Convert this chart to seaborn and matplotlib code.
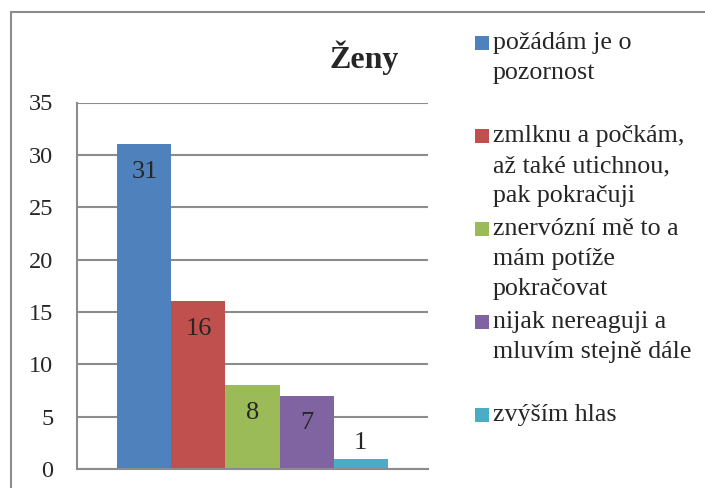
import matplotlib
matplotlib.use('Agg')
import matplotlib.pyplot as plt
from matplotlib.patches import Rectangle
from matplotlib.lines import Line2D
import seaborn as sns
import pandas as pd

# data
titulek = 'Ženy'
odpovedi = ['požádám je o\npozornost',
            'zmlknu a počkám,\naž také utichnou,\npak pokračuji',
            'znervózní mě to a\nmám potíže\npokračovat',
            'nijak nereaguji a\nmluvím stejně dále',
            'zvýším hlas']
pocty = [31, 16, 8, 7, 1]
barvy = ['#4F81BD', '#C0504D', '#9BBB59', '#8064A2', '#4BACC6']
y_ticks = [0, 5, 10, 15, 20, 25, 30, 35]

W, H = 705, 488
sns.set_style('white')
plt.rcParams['font.family'] = ['Liberation Serif', 'DejaVu Serif']
grid_col = '#8c8c8c'

df = pd.DataFrame({'skupina': [titulek] * len(pocty), 'odpoved': odpovedi, 'pocet': pocty})

fig = plt.figure(figsize=(W / 100, H / 100), dpi=100)
ax = fig.add_axes([77 / W, 1 - 469 / H, (428 - 77) / W, (469 - 102.5) / H])

sns.barplot(data=df, x='skupina', y='pocet', hue='odpoved', palette=barvy, saturation=1,
            width=0.77, legend=False, ax=ax, linewidth=0)

ax.set_ylim(0, 35)
ax.set_xlim(-0.5, 0.5)
ax.set_yticks(y_ticks)
ax.set_xticks([])
ax.set(xlabel='', ylabel='')
ax.set_axisbelow(True)
ax.yaxis.grid(True, color=grid_col, linewidth=1.5)
for s in ['top', 'right']:
    ax.spines[s].set_visible(False)
for s in ['left', 'bottom']:
    ax.spines[s].set_color(grid_col)
    ax.spines[s].set_linewidth(1.5)
ax.tick_params(axis='y', length=5.5, width=1.5, color=grid_col, pad=11.5, labelsize=17.5, direction='out')

# data labels, inside end, or above when the bar is too short
for cont in ax.containers:
    for bar in cont:
        v = bar.get_height()
        cx = bar.get_x() + bar.get_width() / 2
        off = -20 if v > 3 else 11
        ax.annotate(f'{v:.0f}', (cx, v), xytext=(0, off), textcoords='offset points',
                    ha='center', va='center', fontsize=19)

# title
fig.text(364.5 / W, 1 - 68 / H, titulek, ha='center', va='baseline', fontsize=23, fontweight='bold')

# legend, one entry every 93 px
for i, (lab, col) in enumerate(zip(odpovedi, barvy)):
    base = 49 + 93 * i
    fig.patches.append(Rectangle((475 / W, 1 - (base - 6 + 7) / H), 14 / W, 14 / H,
                                 transform=fig.transFigure, facecolor=col, edgecolor='none'))
    for j, line in enumerate(lab.split('\n')):
        fig.text(493 / W, 1 - (base + 30 * j) / H, line, ha='left', va='baseline', fontsize=18.7)

# chart frame (left and top edges visible)
fig.add_artist(Line2D([11 / W, 11 / W], [0, 1 - 12 / H], transform=fig.transFigure, color='#8c8c8c', linewidth=1.5))
fig.add_artist(Line2D([11 / W, 1], [1 - 12 / H, 1 - 12 / H], transform=fig.transFigure, color='#8c8c8c', linewidth=1.5))

fig.savefig('out.png', dpi=100)
